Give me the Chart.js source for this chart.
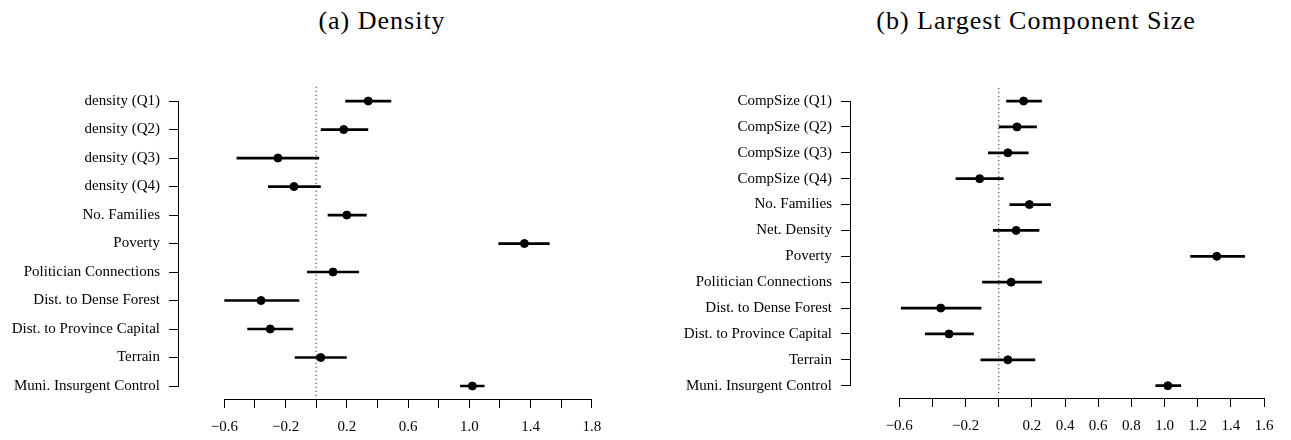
<!DOCTYPE html>
<html>
<head>
<meta charset="utf-8">
<script src="https://cdn.jsdelivr.net/npm/chart.js@4.4.1/dist/chart.umd.min.js"></script>
<style>
    html, body { margin: 0; padding: 0; background: #fff; }
    #wrap { position: relative; width: 1291px; height: 440px; overflow: hidden; }
    .panel { position: absolute; top: 0; height: 440px; }
    .title {
        position: absolute; top: 6px;
        font-family: 'Liberation Serif', serif; font-size: 26px; letter-spacing: 1px; color: #000;
        white-space: nowrap; transform: translateX(-50%);
    }
</style>
</head>
<body>
<div id="wrap">
    <div class="title" style="left:382px">(a) Density</div>
    <div class="title" style="left:1036px">(b) Largest Component Size</div>
    <div class="panel" style="left:0;width:645px"><canvas id="densityChart" width="645" height="440"></canvas></div>
    <div class="panel" style="left:645px;width:646px"><canvas id="compChart" width="646" height="440"></canvas></div>
</div>
<script>
// Panel (a): density model
const densityLabels = ['density (Q1)', 'density (Q2)', 'density (Q3)', 'density (Q4)', 'No. Families', 'Poverty',
    'Politician Connections', 'Dist. to Dense Forest', 'Dist. to Province Capital', 'Terrain', 'Muni. Insurgent Control'];
const densityEst  = [0.34, 0.18, -0.25, -0.145, 0.20, 1.36, 0.11, -0.36, -0.30, 0.03, 1.02];
const densityLow  = [0.19, 0.03, -0.52, -0.315, 0.075, 1.19, -0.06, -0.60, -0.45, -0.14, 0.94];
const densityHigh = [0.49, 0.34, 0.02, 0.03, 0.33, 1.525, 0.28, -0.11, -0.15, 0.20, 1.10];
const densityTicks = [-0.6, -0.4, -0.2, 0, 0.2, 0.4, 0.6, 0.8, 1.0, 1.2, 1.4, 1.6, 1.8];
const densityTickLabels = ['\u22120.6', '', '\u22120.2', '', '0.2', '', '0.6', '', '1.0', '', '1.4', '', '1.8'];

// Panel (b): largest component size model
const compLabels = ['CompSize (Q1)', 'CompSize (Q2)', 'CompSize (Q3)', 'CompSize (Q4)', 'No. Families', 'Net. Density',
    'Poverty', 'Politician Connections', 'Dist. to Dense Forest', 'Dist. to Province Capital', 'Terrain', 'Muni. Insurgent Control'];
const compEst  = [0.15, 0.11, 0.055, -0.115, 0.185, 0.105, 1.315, 0.075, -0.35, -0.30, 0.055, 1.02];
const compLow  = [0.045, 0.0, -0.065, -0.26, 0.065, -0.035, 1.155, -0.10, -0.59, -0.445, -0.11, 0.945];
const compHigh = [0.26, 0.23, 0.18, 0.03, 0.315, 0.245, 1.485, 0.26, -0.105, -0.15, 0.22, 1.10];
const compTicks = [-0.6, -0.4, -0.2, 0, 0.2, 0.4, 0.6, 0.8, 1.0, 1.2, 1.4, 1.6];
const compTickLabels = ['\u22120.6', '', '\u22120.2', '', '0.2', '0.4', '0.6', '0.8', '1.0', '1.2', '1.4', '1.6'];

const FONT = { family: "'Liberation Serif', serif", size: 15 };

// R-style axes: lines only between first and last tick, dotted zero line
const rAxesPlugin = {
    id: 'rAxes',
    beforeDatasetsDraw(chart) {
        const { ctx, chartArea, scales } = chart;
        const x0 = scales.x.getPixelForValue(0);
        ctx.save();
        ctx.strokeStyle = '#000';
        ctx.lineWidth = 1;
        ctx.setLineDash([1, 3]);
        ctx.beginPath();
        ctx.moveTo(x0, chartArea.top);
        ctx.lineTo(x0, chartArea.bottom - 3);
        ctx.stroke();
        ctx.restore();
    },
    afterDraw(chart) {
        const { ctx, chartArea, scales } = chart;
        const xt = scales.x.ticks;
        const yt = scales.y.ticks;
        ctx.save();
        ctx.strokeStyle = '#000';
        ctx.lineWidth = 1;
        ctx.beginPath();
        ctx.moveTo(scales.x.getPixelForValue(xt[0].value), chartArea.bottom + 0.5);
        ctx.lineTo(scales.x.getPixelForValue(xt[xt.length - 1].value), chartArea.bottom + 0.5);
        ctx.moveTo(chartArea.left - 0.5, scales.y.getPixelForValue(yt[0].value));
        ctx.lineTo(chartArea.left - 0.5, scales.y.getPixelForValue(yt[yt.length - 1].value));
        ctx.stroke();
        ctx.restore();
    }
};

function makeForestPlot(canvasId, labels, est, low, high, ticks, tickLabels, cfg) {
    // one horizontal segment per coefficient for the interval
    const ciSets = labels.map((lab, i) => ({
        data: [{ x: low[i], y: i + 1 }, { x: high[i], y: i + 1 }],
        showLine: true,
        borderColor: '#000',
        borderWidth: 2.7,
        pointRadius: 0,
        pointHoverRadius: 0
    }));
    const pointSet = {
        data: est.map((v, i) => ({ x: v, y: i + 1 })),
        backgroundColor: '#000',
        borderColor: '#000',
        pointRadius: 4,
        pointHoverRadius: 4
    };

    return new Chart(document.getElementById(canvasId), {
        type: 'scatter',
        data: { datasets: [...ciSets, pointSet] },
        plugins: [rAxesPlugin],
        options: {
            responsive: false,
            animation: false,
            layout: { padding: { top: cfg.padTop, right: cfg.padRight, bottom: 0, left: 0 } },
            plugins: { legend: { display: false }, tooltip: { enabled: false } },
            scales: {
                x: {
                    type: 'linear',
                    min: cfg.xMin,
                    max: cfg.xMax,
                    afterBuildTicks: s => { s.ticks = ticks.map(v => ({ value: v })); },
                    afterFit: s => { s.height = cfg.xAxisHeight; },
                    ticks: {
                        callback: (v, i) => tickLabels[i],
                        autoSkip: false,
                        maxRotation: 0,
                        color: '#000',
                        font: FONT,
                        padding: 10
                    },
                    grid: { drawOnChartArea: false, drawTicks: true, tickLength: 9, color: '#000', lineWidth: 1 },
                    border: { display: false }
                },
                y: {
                    type: 'linear',
                    reverse: true,
                    min: 0.5,
                    max: cfg.yMax,
                    afterBuildTicks: s => { s.ticks = labels.map((l, i) => ({ value: i + 1 })); },
                    afterFit: s => { s.width = cfg.yAxisWidth; },
                    ticks: {
                        callback: (v, i) => labels[i],
                        autoSkip: false,
                        color: '#000',
                        font: FONT,
                        padding: 9
                    },
                    grid: { drawOnChartArea: false, drawTicks: true, tickLength: 10, color: '#000', lineWidth: 1 },
                    border: { display: false }
                }
            }
        }
    });
}

makeForestPlot('densityChart', densityLabels, densityEst, densityLow, densityHigh, densityTicks, densityTickLabels,
    { xMin: -0.896, xMax: 2.0, yMax: 11.456, padTop: 86.8, padRight: 22.6, xAxisHeight: 41, yAxisWidth: 179 });
makeForestPlot('compChart', compLabels, compEst, compLow, compHigh, compTicks, compTickLabels,
    { xMin: -0.891, xMax: 1.7, yMax: 12.475, padTop: 88.1, padRight: 10.4, xAxisHeight: 42, yAxisWidth: 206 });
</script>
</body>
</html>
